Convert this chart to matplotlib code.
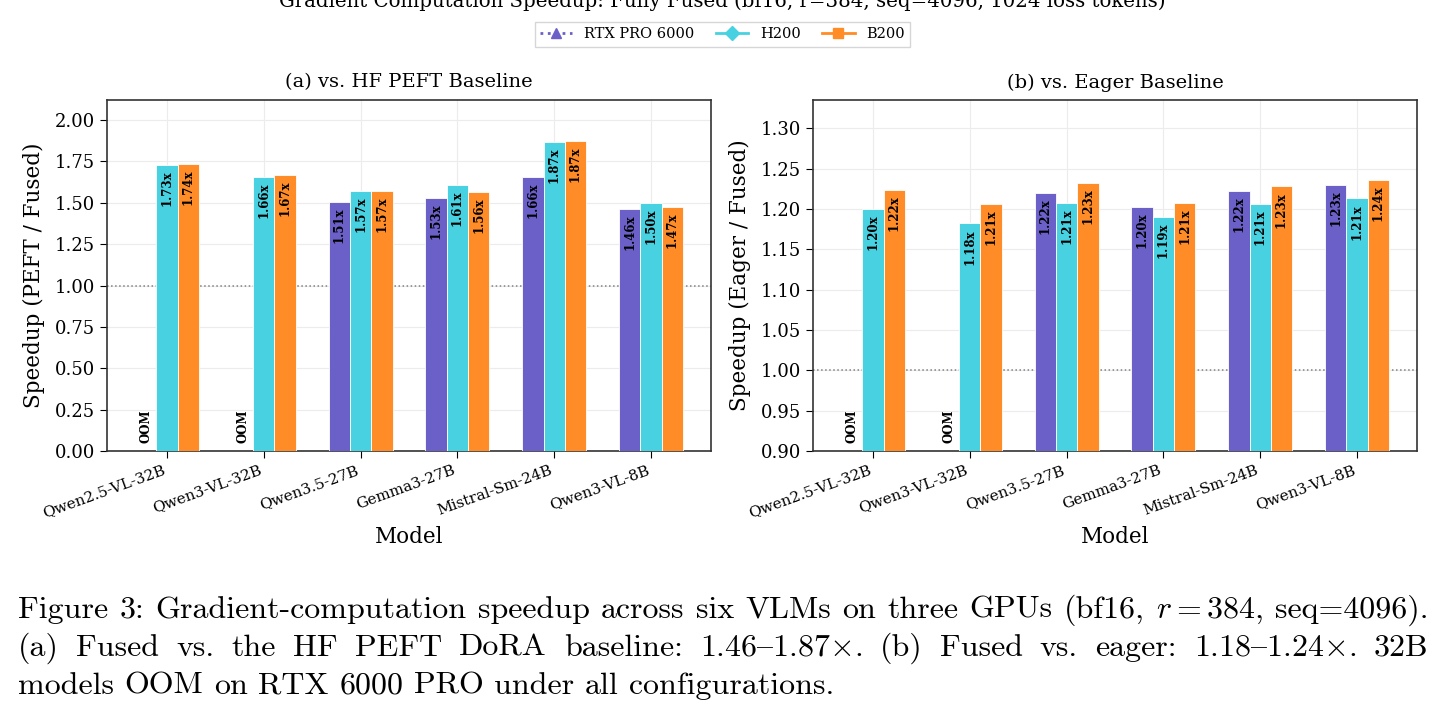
import numpy as np
import matplotlib.pyplot as plt
from matplotlib.lines import Line2D

plt.rcParams['font.family'] = 'DejaVu Serif'
plt.rcParams['mathtext.fontset'] = 'cm'

models = ['Qwen2.5-VL-32B', 'Qwen3-VL-32B', 'Qwen3.5-27B', 'Gemma3-27B',
          'Mistral-Sm-24B', 'Qwen3-VL-8B']
gpus = ['RTX PRO 6000', 'H200', 'B200']

# (a) speedup vs HF PEFT baseline (nan = OOM)
peft_rtx = [np.nan, np.nan, 1.507, 1.527, 1.656, 1.462]
peft_h200 = [1.730, 1.656, 1.569, 1.606, 1.867, 1.498]
peft_b200 = [1.736, 1.668, 1.569, 1.563, 1.873, 1.472]

# (b) speedup vs eager baseline
eager_rtx = [np.nan, np.nan, 1.220, 1.202, 1.222, 1.230]
eager_h200 = [1.200, 1.182, 1.207, 1.190, 1.206, 1.213]
eager_b200 = [1.224, 1.206, 1.232, 1.207, 1.228, 1.236]

colors = ['#6b60c7', '#48d1e0', '#ff8c26']
width = 0.22

W, H = 1445, 719
fig = plt.figure(figsize=(W / 100, H / 100), dpi=100)


def draw_panel(ax, series, ylim, oom_y, title, ylabel):
    x = np.arange(len(models))
    for k, (vals, col) in enumerate(zip(series, colors)):
        xs = x + (k - 1) * width
        ax.bar(xs, vals, width, color=col, edgecolor='white', linewidth=0.6, zorder=3)
        for xi, v in zip(xs, vals):
            if np.isnan(v):
                ax.text(xi, oom_y, 'OOM', rotation=90, ha='center', va='bottom',
                        fontsize=8.5, fontweight='bold', zorder=4)
            else:
                ax.annotate(f'{v:.2f}x', (xi, v), xytext=(0, -4), textcoords='offset points',
                            rotation=90, ha='center', va='top', fontsize=8.5,
                            fontweight='bold', zorder=4)
    ax.axhline(1.0, color='gray', linestyle=':', linewidth=1.1, zorder=2)
    ax.set_xlim(-0.62, 5.62)
    ax.set_ylim(*ylim)
    ax.set_xticks(x)
    ax.set_xticklabels(models, rotation=20, ha='right', fontsize=11)
    ax.tick_params(axis='y', labelsize=13)
    ax.tick_params(length=5)
    ax.grid(True, color='#ececec', linewidth=0.8)
    ax.set_axisbelow(True)
    for s in ax.spines.values():
        s.set_color('#333333')
        s.set_linewidth(1.2)
    ax.set_title(title, fontsize=14, pad=9)
    ax.set_ylabel(ylabel, fontsize=15.5, labelpad=7)
    ax.set_xlabel('Model', fontsize=15.5, labelpad=4)


ax1 = fig.add_axes([107 / W, 1 - 451 / H, 604 / W, 351 / H])
draw_panel(ax1, [peft_rtx, peft_h200, peft_b200], (0, 2.121), 0.05,
           '(a) vs. HF PEFT Baseline', 'Speedup (PEFT / Fused)')
ax1.set_yticks(np.arange(0, 2.01, 0.25))

ax2 = fig.add_axes([813 / W, 1 - 451 / H, 604 / W, 351 / H])
draw_panel(ax2, [eager_rtx, eager_h200, eager_b200], (0.9, 1.335), 0.91,
           '(b) vs. Eager Baseline', 'Speedup (Eager / Fused)')
ax2.set_yticks(np.arange(0.9, 1.301, 0.05))

fig.text(0.5, 1 - 7 / H,
         'Gradient Computation Speedup: Fully Fused (bf16, r=384, seq=4096, 1024 loss tokens)',
         ha='center', va='baseline', fontsize=14.2)

handles = [
    Line2D([], [], color=colors[0], linestyle=':', linewidth=2, marker='^', markersize=7),
    Line2D([], [], color=colors[1], linestyle='-', linewidth=2, marker='D', markersize=7),
    Line2D([], [], color=colors[2], linestyle='-', linewidth=2, marker='s', markersize=7),
]
fig.legend(handles, gpus, loc='upper center', bbox_to_anchor=(0.5, 1 - 15 / H), ncol=3,
           fontsize=10.5, frameon=True, edgecolor='#cccccc', fancybox=False,
           handlelength=2.2, columnspacing=1.5, borderpad=0.35)

# caption, justified like LaTeX text ('{' is the en dash slot in cmr10)
cap_font = ['cmr10', 'DejaVu Serif']
cap_fs = 23
cap_lines = [
    ('Figure 3: Gradient-computation speedup across six VLMs on three GPUs '
     '(bf16, $r=384$, seq=4096).', True),
    ('(a) Fused vs. the HF PEFT DoRA baseline: 1.46{1.87$\\times$. '
     '(b) Fused vs. eager: 1.18{1.24$\\times$. 32B', True),
    ('models OOM on RTX 6000 PRO under all configurations.', False),
]
cap_base = [618, 656, 694]
x0, x1 = 18, 1428
renderer = fig.canvas.get_renderer()
for (line, justify), yb in zip(cap_lines, cap_base):
    words = line.split(' ')
    ts = [fig.text(0, 1 - yb / H, w, fontsize=cap_fs, family=cap_font, va='baseline')
          for w in words]
    widths = [t.get_window_extent(renderer).width for t in ts]
    gap = (x1 - x0 - sum(widths)) / (len(words) - 1) if justify else 0.33 * cap_fs * 100 / 72
    x = x0
    for t, w in zip(ts, widths):
        t.set_x(x / W)
        x += w + gap

fig.savefig('out.png', dpi=100)
